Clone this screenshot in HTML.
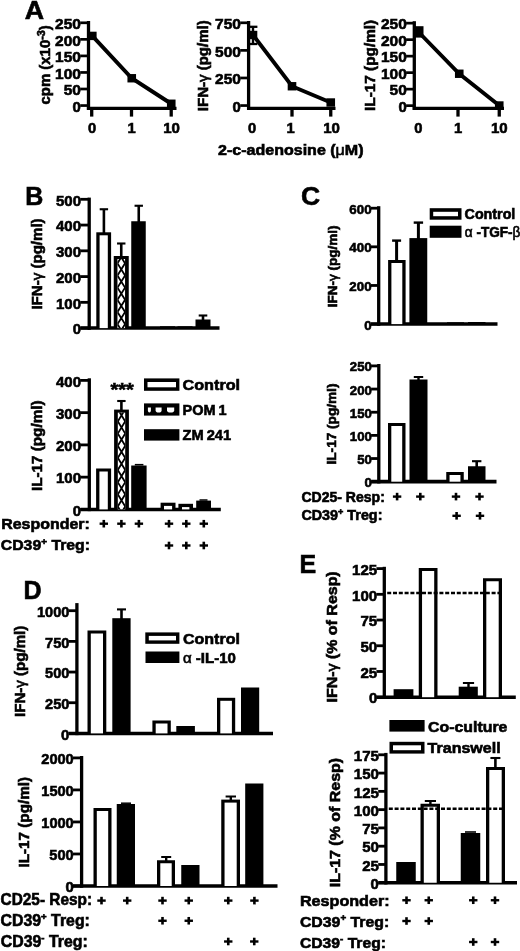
<!DOCTYPE html>
<html><head><meta charset="utf-8"><title>Figure</title>
<style>
html,body{margin:0;padding:0;background:#fff;}
svg{display:block;}
svg text{font-family:"Liberation Sans",sans-serif;fill:#000;stroke:#000;stroke-width:0.6px;}
</style></head><body>
<svg width="520" height="951" viewBox="0 0 520 951">
<rect x="0" y="0" width="520" height="951" fill="#fff"/>
<text transform="translate(24.8,19.2) scale(1.03,1)" x="0" y="0" font-size="26" font-weight="bold">A</text>
<line x1="88.5" y1="21" x2="88.5" y2="109.9" stroke="#000" stroke-width="3.3" />
<line x1="86.9" y1="108.4" x2="176.5" y2="108.4" stroke="#000" stroke-width="3.4" />
<line x1="80.2" y1="22.8" x2="88.5" y2="22.8" stroke="#000" stroke-width="2.7" />
<line x1="80.2" y1="39.35" x2="88.5" y2="39.35" stroke="#000" stroke-width="2.7" />
<line x1="80.2" y1="55.9" x2="88.5" y2="55.9" stroke="#000" stroke-width="2.7" />
<line x1="80.2" y1="72.45" x2="88.5" y2="72.45" stroke="#000" stroke-width="2.7" />
<line x1="80.2" y1="89" x2="88.5" y2="89" stroke="#000" stroke-width="2.7" />
<line x1="80.2" y1="105.55" x2="88.5" y2="105.55" stroke="#000" stroke-width="2.7" />
<text transform="translate(80.9,29.04) scale(1.02,1)" x="-25.35" y="0" font-size="15.2" font-weight="bold">250</text>
<text transform="translate(80.9,45.59) scale(1.02,1)" x="-25.35" y="0" font-size="15.2" font-weight="bold">200</text>
<text transform="translate(80.9,62.14) scale(1.02,1)" x="-25.35" y="0" font-size="15.2" font-weight="bold">150</text>
<text transform="translate(80.9,78.69) scale(1.02,1)" x="-25.35" y="0" font-size="15.2" font-weight="bold">100</text>
<text transform="translate(80.9,95.24) scale(1.02,1)" x="-16.9" y="0" font-size="15.2" font-weight="bold">50</text>
<text transform="translate(80.9,111.79) scale(0.98,1)" x="-8.46" y="0" font-size="15.2" font-weight="bold">0</text>
<line x1="91.7" y1="108.4" x2="91.7" y2="116.6" stroke="#000" stroke-width="3.3" />
<line x1="131.5" y1="108.4" x2="131.5" y2="116.6" stroke="#000" stroke-width="3.3" />
<line x1="171.2" y1="108.4" x2="171.2" y2="116.6" stroke="#000" stroke-width="3.3" />
<polyline points="92.3,35.9 131.75,78.25 171.25,103.75" fill="none" stroke="#000" stroke-width="3.9"/>
<rect x="88" y="31.7" width="8.6" height="8.4" fill="#000"/>
<rect x="127.45" y="74.05" width="8.6" height="8.4" fill="#000"/>
<rect x="166.95" y="99.55" width="8.6" height="8.4" fill="#000"/>
<text transform="translate(92,133.1) scale(0.97,1)" x="-4.23" y="0" font-size="15.2" font-weight="bold">0</text>
<text transform="translate(131.5,133.1) scale(0.97,1)" x="-4.23" y="0" font-size="15.2" font-weight="bold">1</text>
<text transform="translate(171.5,133.1) scale(0.99,1)" x="-8.45" y="0" font-size="15.2" font-weight="bold">10</text>
<text transform="translate(50,104.5) rotate(-90) scale(1.03,1)" x="0" y="0" font-size="14.5" font-weight="bold">cpm (x10<tspan dy="-5" font-size="10.5">-3</tspan><tspan dy="5">)</tspan></text>
<line x1="248.6" y1="21" x2="248.6" y2="109.9" stroke="#000" stroke-width="3.3" />
<line x1="247" y1="108.4" x2="335.5" y2="108.4" stroke="#000" stroke-width="3.4" />
<line x1="240.2" y1="22.8" x2="248.6" y2="22.8" stroke="#000" stroke-width="2.7" />
<line x1="240.2" y1="50.38" x2="248.6" y2="50.38" stroke="#000" stroke-width="2.7" />
<line x1="240.2" y1="77.97" x2="248.6" y2="77.97" stroke="#000" stroke-width="2.7" />
<line x1="240.2" y1="105.55" x2="248.6" y2="105.55" stroke="#000" stroke-width="2.7" />
<text transform="translate(240.9,29.04) scale(1.02,1)" x="-25.35" y="0" font-size="15.2" font-weight="bold">750</text>
<text transform="translate(240.9,56.62) scale(1.02,1)" x="-25.35" y="0" font-size="15.2" font-weight="bold">500</text>
<text transform="translate(240.9,84.21) scale(1.02,1)" x="-25.35" y="0" font-size="15.2" font-weight="bold">250</text>
<text transform="translate(240.9,111.79) scale(0.98,1)" x="-8.46" y="0" font-size="15.2" font-weight="bold">0</text>
<line x1="292" y1="108.4" x2="292" y2="116.6" stroke="#000" stroke-width="3.3" />
<line x1="330.75" y1="108.4" x2="330.75" y2="116.6" stroke="#000" stroke-width="3.3" />
<line x1="253" y1="26.8" x2="253" y2="44" stroke="#000" stroke-width="2.4" />
<line x1="248.6" y1="26.8" x2="257.4" y2="26.8" stroke="#000" stroke-width="2.3" />
<line x1="248.6" y1="44" x2="257.4" y2="44" stroke="#000" stroke-width="2.3" />
<polyline points="253,35 292,86.25 330.75,102.5" fill="none" stroke="#000" stroke-width="3.9"/>
<rect x="248.7" y="30.8" width="8.6" height="8.4" fill="#000"/>
<rect x="287.7" y="82.05" width="8.6" height="8.4" fill="#000"/>
<rect x="326.45" y="98.3" width="8.6" height="8.4" fill="#000"/>
<text transform="translate(252,133.1) scale(0.97,1)" x="-4.23" y="0" font-size="15.2" font-weight="bold">0</text>
<text transform="translate(290.7,133.1) scale(0.97,1)" x="-4.23" y="0" font-size="15.2" font-weight="bold">1</text>
<text transform="translate(331.5,133.1) scale(0.99,1)" x="-8.45" y="0" font-size="15.2" font-weight="bold">10</text>
<text transform="translate(207.5,111.2) rotate(-90) scale(1,1)" x="0" y="0" font-size="15" font-weight="bold">IFN-<tspan font-weight="normal">γ</tspan> (pg/ml)</text>
<line x1="414.3" y1="21.2" x2="414.3" y2="109.9" stroke="#000" stroke-width="3.3" />
<line x1="412.7" y1="108.4" x2="504" y2="108.4" stroke="#000" stroke-width="3.4" />
<line x1="406.1" y1="23.15" x2="414.3" y2="23.15" stroke="#000" stroke-width="2.7" />
<line x1="406.1" y1="39.65" x2="414.3" y2="39.65" stroke="#000" stroke-width="2.7" />
<line x1="406.1" y1="56.15" x2="414.3" y2="56.15" stroke="#000" stroke-width="2.7" />
<line x1="406.1" y1="72.65" x2="414.3" y2="72.65" stroke="#000" stroke-width="2.7" />
<line x1="406.1" y1="89.15" x2="414.3" y2="89.15" stroke="#000" stroke-width="2.7" />
<line x1="406.1" y1="105.65" x2="414.3" y2="105.65" stroke="#000" stroke-width="2.7" />
<text transform="translate(406.8,29.39) scale(1.02,1)" x="-25.35" y="0" font-size="15.2" font-weight="bold">250</text>
<text transform="translate(406.8,45.89) scale(1.02,1)" x="-25.35" y="0" font-size="15.2" font-weight="bold">200</text>
<text transform="translate(406.8,62.39) scale(1.02,1)" x="-25.35" y="0" font-size="15.2" font-weight="bold">150</text>
<text transform="translate(406.8,78.89) scale(1.02,1)" x="-25.35" y="0" font-size="15.2" font-weight="bold">100</text>
<text transform="translate(406.8,95.39) scale(1.02,1)" x="-16.9" y="0" font-size="15.2" font-weight="bold">50</text>
<text transform="translate(406.8,111.89) scale(0.98,1)" x="-8.46" y="0" font-size="15.2" font-weight="bold">0</text>
<line x1="458" y1="108.4" x2="458" y2="116.6" stroke="#000" stroke-width="3.3" />
<line x1="499.25" y1="108.4" x2="499.25" y2="116.6" stroke="#000" stroke-width="3.3" />
<polyline points="418.5,32 459.25,73.75 499.25,105.5" fill="none" stroke="#000" stroke-width="3.9"/>
<rect x="413.9" y="26.2" width="9.6" height="11.4" fill="#000"/>
<rect x="454.95" y="69.55" width="8.6" height="8.4" fill="#000"/>
<rect x="494.95" y="101.3" width="8.6" height="8.4" fill="#000"/>
<text transform="translate(418.25,133.2) scale(0.97,1)" x="-4.23" y="0" font-size="15.2" font-weight="bold">0</text>
<text transform="translate(458,133.2) scale(0.97,1)" x="-4.23" y="0" font-size="15.2" font-weight="bold">1</text>
<text transform="translate(499.25,133.2) scale(0.99,1)" x="-8.45" y="0" font-size="15.2" font-weight="bold">10</text>
<text transform="translate(375.3,111) rotate(-90) scale(1.01,1)" x="0" y="0" font-size="15.2" font-weight="bold">IL-17 (pg/ml)</text>
<text transform="translate(218,155.4) scale(1.07,1)" x="0" y="0" font-size="15" font-weight="bold">2-c-adenosine (<tspan font-weight="normal">μ</tspan>M)</text>
<text transform="translate(25.2,205) scale(1,1)" x="0" y="0" font-size="25" font-weight="bold">B</text>
<line x1="89.2" y1="197.6" x2="89.2" y2="329.85" stroke="#000" stroke-width="3.3" />
<line x1="80.5" y1="328.1" x2="219.5" y2="328.1" stroke="#000" stroke-width="3.5" />
<line x1="80.3" y1="199.3" x2="89.2" y2="199.3" stroke="#000" stroke-width="2.8" />
<line x1="80.3" y1="225.06" x2="89.2" y2="225.06" stroke="#000" stroke-width="2.8" />
<line x1="80.3" y1="250.82" x2="89.2" y2="250.82" stroke="#000" stroke-width="2.8" />
<line x1="80.3" y1="276.58" x2="89.2" y2="276.58" stroke="#000" stroke-width="2.8" />
<line x1="80.3" y1="302.34" x2="89.2" y2="302.34" stroke="#000" stroke-width="2.8" />
<line x1="80.3" y1="328.1" x2="89.2" y2="328.1" stroke="#000" stroke-width="2.8" />
<text transform="translate(81.1,205.54) scale(0.99,1)" x="-25.35" y="0" font-size="15.2" font-weight="bold">500</text>
<text transform="translate(81.1,231.3) scale(0.99,1)" x="-25.35" y="0" font-size="15.2" font-weight="bold">400</text>
<text transform="translate(81.1,257.06) scale(0.99,1)" x="-25.35" y="0" font-size="15.2" font-weight="bold">300</text>
<text transform="translate(81.1,282.82) scale(0.99,1)" x="-25.35" y="0" font-size="15.2" font-weight="bold">200</text>
<text transform="translate(81.1,308.58) scale(0.99,1)" x="-25.35" y="0" font-size="15.2" font-weight="bold">100</text>
<text transform="translate(81.1,334.34) scale(0.98,1)" x="-8.46" y="0" font-size="15.2" font-weight="bold">0</text>
<rect x="96.3" y="232.3" width="14.8" height="95.8" fill="#000"/>
<rect x="99.6" y="235.3" width="8.2" height="92.8" fill="#fff"/>
<line x1="103.9" y1="209.25" x2="103.9" y2="233" stroke="#000" stroke-width="2.6" />
<line x1="99.7" y1="209.25" x2="108.1" y2="209.25" stroke="#000" stroke-width="2.1" />
<rect x="113.75" y="256" width="15" height="72.1" fill="#000"/>
<rect x="117.45" y="259" width="7.6" height="69.1" fill="#fff"/>
<svg x="117.45" y="259" width="7.6" height="69.1" overflow="hidden">
<path d="M-3.8 -1.76 L11.4 -26.08 M11.4 -1.76 L-3.8 -26.08 M-3.8 10.4 L11.4 -13.92 M11.4 10.4 L-3.8 -13.92 M-3.8 22.56 L11.4 -1.76 M11.4 22.56 L-3.8 -1.76 M-3.8 34.72 L11.4 10.4 M11.4 34.72 L-3.8 10.4 M-3.8 46.88 L11.4 22.56 M11.4 46.88 L-3.8 22.56 M-3.8 59.04 L11.4 34.72 M11.4 59.04 L-3.8 34.72 M-3.8 71.2 L11.4 46.88 M11.4 71.2 L-3.8 46.88 M-3.8 83.36 L11.4 59.04 M11.4 83.36 L-3.8 59.04 M-3.8 95.52 L11.4 71.2 M11.4 95.52 L-3.8 71.2 " stroke="#000" stroke-width="1.8" fill="none"/>
</svg>
<line x1="121.25" y1="243.5" x2="121.25" y2="257" stroke="#000" stroke-width="2.6" />
<line x1="117.05" y1="243.5" x2="125.45" y2="243.5" stroke="#000" stroke-width="2.1" />
<rect x="131.25" y="221.25" width="14.5" height="106.85" fill="#000"/>
<line x1="138.75" y1="205.75" x2="138.75" y2="222" stroke="#000" stroke-width="2.6" />
<line x1="134.55" y1="205.75" x2="142.95" y2="205.75" stroke="#000" stroke-width="2.1" />
<rect x="160" y="326.3" width="15" height="1.8" fill="#000"/>
<rect x="177.5" y="326.3" width="15" height="1.8" fill="#000"/>
<rect x="195.5" y="319.5" width="15" height="8.6" fill="#000"/>
<line x1="203" y1="315.5" x2="203" y2="320" stroke="#000" stroke-width="2.6" />
<line x1="198.7" y1="315.5" x2="207.3" y2="315.5" stroke="#000" stroke-width="2.1" />
<text transform="translate(41.6,309.6) rotate(-90) scale(1.04,1)" x="0" y="0" font-size="14.5" font-weight="bold">IFN-<tspan font-weight="normal">γ</tspan> (pg/ml)</text>
<line x1="89.3" y1="378.3" x2="89.3" y2="511.15" stroke="#000" stroke-width="3.3" />
<line x1="80.5" y1="509.4" x2="220.8" y2="509.4" stroke="#000" stroke-width="3.5" />
<line x1="80.2" y1="380.4" x2="89.3" y2="380.4" stroke="#000" stroke-width="2.8" />
<line x1="80.2" y1="412.65" x2="89.3" y2="412.65" stroke="#000" stroke-width="2.8" />
<line x1="80.2" y1="444.9" x2="89.3" y2="444.9" stroke="#000" stroke-width="2.8" />
<line x1="80.2" y1="477.15" x2="89.3" y2="477.15" stroke="#000" stroke-width="2.8" />
<line x1="80.2" y1="509.4" x2="89.3" y2="509.4" stroke="#000" stroke-width="2.8" />
<text transform="translate(81.1,386.64) scale(0.99,1)" x="-25.35" y="0" font-size="15.2" font-weight="bold">400</text>
<text transform="translate(81.1,418.89) scale(0.99,1)" x="-25.35" y="0" font-size="15.2" font-weight="bold">300</text>
<text transform="translate(81.1,451.14) scale(0.99,1)" x="-25.35" y="0" font-size="15.2" font-weight="bold">200</text>
<text transform="translate(81.1,483.39) scale(0.99,1)" x="-25.35" y="0" font-size="15.2" font-weight="bold">100</text>
<text transform="translate(81.1,515.64) scale(0.98,1)" x="-8.46" y="0" font-size="15.2" font-weight="bold">0</text>
<rect x="96.1" y="468.5" width="15" height="40.9" fill="#000"/>
<rect x="99.4" y="471.5" width="8.4" height="37.9" fill="#fff"/>
<rect x="114.1" y="409.6" width="14.8" height="99.8" fill="#000"/>
<rect x="117.8" y="412.6" width="7.4" height="96.8" fill="#fff"/>
<svg x="117.8" y="412.6" width="7.4" height="96.8" overflow="hidden">
<path d="M-3.7 -9.44 L11.1 -33.76 M11.1 -9.44 L-3.7 -33.76 M-3.7 2.72 L11.1 -21.6 M11.1 2.72 L-3.7 -21.6 M-3.7 14.88 L11.1 -9.44 M11.1 14.88 L-3.7 -9.44 M-3.7 27.04 L11.1 2.72 M11.1 27.04 L-3.7 2.72 M-3.7 39.2 L11.1 14.88 M11.1 39.2 L-3.7 14.88 M-3.7 51.36 L11.1 27.04 M11.1 51.36 L-3.7 27.04 M-3.7 63.52 L11.1 39.2 M11.1 63.52 L-3.7 39.2 M-3.7 75.68 L11.1 51.36 M11.1 75.68 L-3.7 51.36 M-3.7 87.84 L11.1 63.52 M11.1 87.84 L-3.7 63.52 M-3.7 100 L11.1 75.68 M11.1 100 L-3.7 75.68 M-3.7 112.16 L11.1 87.84 M11.1 112.16 L-3.7 87.84 " stroke="#000" stroke-width="1.8" fill="none"/>
</svg>
<line x1="121.4" y1="401" x2="121.4" y2="410.5" stroke="#000" stroke-width="2.6" />
<line x1="117.2" y1="401" x2="125.6" y2="401" stroke="#000" stroke-width="2.1" />
<rect x="131.2" y="465.5" width="15.4" height="43.9" fill="#000"/>
<line x1="134.8" y1="464.7" x2="143.4" y2="464.7" stroke="#000" stroke-width="1.6" />
<rect x="160.6" y="502.7" width="14.9" height="6.7" fill="#000"/>
<rect x="164" y="505.9" width="8.1" height="3.5" fill="#fff"/>
<rect x="178.4" y="503.8" width="14.6" height="5.6" fill="#000"/>
<rect x="182" y="507.1" width="7.4" height="2.3" fill="#fff"/>
<rect x="196.2" y="500.6" width="14.8" height="8.8" fill="#000"/>
<line x1="199.5" y1="500" x2="207.5" y2="500" stroke="#000" stroke-width="1.5" />
<text transform="translate(110.4,396) scale(1.05,1)" x="0" y="0" font-size="19" font-weight="bold">***</text>
<rect x="144" y="378.4" width="35.4" height="12.4" fill="#000"/>
<rect x="147.5" y="382" width="28.5" height="5.3" fill="#fff"/>
<rect x="144" y="403.4" width="35.4" height="12.2" fill="#000"/>
<path d="M147.9 407.6 H150.9 V410.2 Q150.9 412.6 149.4 412.6 Q147.9 412.6 147.9 410.2 Z" fill="#fff"/>
<path d="M155.6 407.6 H161.6 V410.2 Q161.6 412.6 158.6 412.6 Q155.6 412.6 155.6 410.2 Z" fill="#fff"/>
<path d="M167 407.6 H174.2 V410.2 Q174.2 412.6 170.6 412.6 Q167 412.6 167 410.2 Z" fill="#fff"/>
<rect x="144" y="429.2" width="35.4" height="11.4" fill="#000"/>
<text transform="translate(182.5,390) scale(1.08,1)" x="0" y="0" font-size="15" font-weight="bold">Control</text>
<text transform="translate(182.5,415.3) scale(0.95,1)" x="0" y="0" font-size="15.3" font-weight="bold">POM&#8201;1</text>
<text transform="translate(182.5,440.4) scale(0.96,1)" x="0" y="0" font-size="15.3" font-weight="bold">ZM&#8201;241</text>
<line x1="99.6" y1="523.7" x2="108" y2="523.7" stroke="#000" stroke-width="2.4" />
<line x1="103.8" y1="519.9" x2="103.8" y2="527.5" stroke="#000" stroke-width="2.6" />
<line x1="117.2" y1="523.7" x2="125.6" y2="523.7" stroke="#000" stroke-width="2.4" />
<line x1="121.4" y1="519.9" x2="121.4" y2="527.5" stroke="#000" stroke-width="2.6" />
<line x1="134.7" y1="523.7" x2="143.1" y2="523.7" stroke="#000" stroke-width="2.4" />
<line x1="138.9" y1="519.9" x2="138.9" y2="527.5" stroke="#000" stroke-width="2.6" />
<line x1="164.8" y1="523.7" x2="173.2" y2="523.7" stroke="#000" stroke-width="2.4" />
<line x1="169" y1="519.9" x2="169" y2="527.5" stroke="#000" stroke-width="2.6" />
<line x1="182.1" y1="523.7" x2="190.5" y2="523.7" stroke="#000" stroke-width="2.4" />
<line x1="186.3" y1="519.9" x2="186.3" y2="527.5" stroke="#000" stroke-width="2.6" />
<line x1="199.6" y1="523.7" x2="208" y2="523.7" stroke="#000" stroke-width="2.4" />
<line x1="203.8" y1="519.9" x2="203.8" y2="527.5" stroke="#000" stroke-width="2.6" />
<line x1="164.8" y1="545.5" x2="173.2" y2="545.5" stroke="#000" stroke-width="2.4" />
<line x1="169" y1="541.7" x2="169" y2="549.3" stroke="#000" stroke-width="2.6" />
<line x1="182.1" y1="545.5" x2="190.5" y2="545.5" stroke="#000" stroke-width="2.4" />
<line x1="186.3" y1="541.7" x2="186.3" y2="549.3" stroke="#000" stroke-width="2.6" />
<line x1="199.6" y1="545.5" x2="208" y2="545.5" stroke="#000" stroke-width="2.4" />
<line x1="203.8" y1="541.7" x2="203.8" y2="549.3" stroke="#000" stroke-width="2.6" />
<text transform="translate(1.2,529.3) scale(1.05,1)" x="0" y="0" font-size="15.2" font-weight="bold">Responder:</text>
<text transform="translate(0.8,550.4) scale(1.04,1)" x="0" y="0" font-size="15.2" font-weight="bold">CD39<tspan dy="-5.8" font-size="9.5">+</tspan><tspan dy="5.8"> Treg:</tspan></text>
<text transform="translate(41.6,491) rotate(-90) scale(1.05,1)" x="0" y="0" font-size="14.5" font-weight="bold">IL-17 (pg/ml)</text>
<text transform="translate(301,205.4) scale(1,1)" x="0" y="0" font-size="26.5" font-weight="bold">C</text>
<line x1="378.7" y1="206.2" x2="378.7" y2="325.85" stroke="#000" stroke-width="3.3" />
<line x1="371" y1="324.1" x2="497.5" y2="324.1" stroke="#000" stroke-width="3.5" />
<line x1="370.9" y1="208.2" x2="378.7" y2="208.2" stroke="#000" stroke-width="2.8" />
<line x1="370.9" y1="246.83" x2="378.7" y2="246.83" stroke="#000" stroke-width="2.8" />
<line x1="370.9" y1="285.47" x2="378.7" y2="285.47" stroke="#000" stroke-width="2.8" />
<line x1="370.9" y1="324.1" x2="378.7" y2="324.1" stroke="#000" stroke-width="2.8" />
<text transform="translate(371.6,213.77) scale(0.98,1)" x="-22.68" y="0" font-size="13.6" font-weight="bold">600</text>
<text transform="translate(371.6,252.4) scale(0.98,1)" x="-22.68" y="0" font-size="13.6" font-weight="bold">400</text>
<text transform="translate(371.6,291.04) scale(0.98,1)" x="-22.68" y="0" font-size="13.6" font-weight="bold">200</text>
<text transform="translate(371.6,329.67) scale(0.98,1)" x="-7.56" y="0" font-size="13.6" font-weight="bold">0</text>
<rect x="388.1" y="260" width="17.5" height="64.1" fill="#000"/>
<rect x="391.4" y="263" width="10.9" height="61.1" fill="#fff"/>
<line x1="396.6" y1="240.6" x2="396.6" y2="260.5" stroke="#000" stroke-width="3" />
<line x1="392.1" y1="240.6" x2="401.1" y2="240.6" stroke="#000" stroke-width="2.4" />
<rect x="409.4" y="238.1" width="17.85" height="86" fill="#000"/>
<line x1="418.4" y1="222.6" x2="418.4" y2="239" stroke="#000" stroke-width="3" />
<line x1="413.7" y1="222.6" x2="423.1" y2="222.6" stroke="#000" stroke-width="2.4" />
<rect x="447" y="322.3" width="17" height="1.8" fill="#000"/>
<rect x="468" y="322" width="17.5" height="2.1" fill="#000"/>
<rect x="429.7" y="208.2" width="31.8" height="11.5" fill="#000"/>
<rect x="433.2" y="211.8" width="24.8" height="4.4" fill="#fff"/>
<rect x="429.7" y="225.7" width="31.8" height="12.1" fill="#000"/>
<text transform="translate(464.6,219.2) scale(1.02,1)" x="0" y="0" font-size="14" font-weight="bold">Control</text>
<text transform="translate(464.8,237.1) scale(0.97,1)" x="0" y="0" font-size="14" font-weight="bold"><tspan font-weight="normal">α</tspan> -TGF-<tspan font-weight="normal">β</tspan></text>
<text transform="translate(337,307.3) rotate(-90) scale(1,1)" x="0" y="0" font-size="13.5" font-weight="bold">IFN-<tspan font-weight="normal">γ</tspan> (pg/ml)</text>
<line x1="378.8" y1="364" x2="378.8" y2="483.45" stroke="#000" stroke-width="3.3" />
<line x1="371.2" y1="481.7" x2="496.5" y2="481.7" stroke="#000" stroke-width="3.8" />
<line x1="371.1" y1="365.9" x2="378.8" y2="365.9" stroke="#000" stroke-width="2.8" />
<line x1="371.1" y1="389.06" x2="378.8" y2="389.06" stroke="#000" stroke-width="2.8" />
<line x1="371.1" y1="412.22" x2="378.8" y2="412.22" stroke="#000" stroke-width="2.8" />
<line x1="371.1" y1="435.38" x2="378.8" y2="435.38" stroke="#000" stroke-width="2.8" />
<line x1="371.1" y1="458.54" x2="378.8" y2="458.54" stroke="#000" stroke-width="2.8" />
<line x1="371.1" y1="481.7" x2="378.8" y2="481.7" stroke="#000" stroke-width="2.8" />
<text transform="translate(371.8,371.47) scale(0.97,1)" x="-22.68" y="0" font-size="13.6" font-weight="bold">250</text>
<text transform="translate(371.8,394.63) scale(0.97,1)" x="-22.68" y="0" font-size="13.6" font-weight="bold">200</text>
<text transform="translate(371.8,417.79) scale(0.97,1)" x="-22.68" y="0" font-size="13.6" font-weight="bold">150</text>
<text transform="translate(371.8,440.95) scale(0.97,1)" x="-22.68" y="0" font-size="13.6" font-weight="bold">100</text>
<text transform="translate(371.8,464.11) scale(0.97,1)" x="-15.12" y="0" font-size="13.6" font-weight="bold">50</text>
<text transform="translate(371.8,487.27) scale(0.98,1)" x="-7.56" y="0" font-size="13.6" font-weight="bold">0</text>
<rect x="388" y="423" width="17.5" height="58.7" fill="#000"/>
<rect x="391.3" y="426" width="10.9" height="55.7" fill="#fff"/>
<rect x="409.5" y="379.5" width="18" height="102.2" fill="#000"/>
<line x1="418.5" y1="377" x2="418.5" y2="380" stroke="#000" stroke-width="2.4" />
<line x1="413.8" y1="377" x2="423.2" y2="377" stroke="#000" stroke-width="2" />
<rect x="446.25" y="472" width="17.5" height="9.7" fill="#000"/>
<rect x="449.55" y="475" width="10.9" height="6.7" fill="#fff"/>
<rect x="468" y="466.25" width="17.5" height="15.45" fill="#000"/>
<line x1="476.7" y1="461.2" x2="476.7" y2="467" stroke="#000" stroke-width="2.6" />
<line x1="472" y1="461.2" x2="481.4" y2="461.2" stroke="#000" stroke-width="2.1" />
<line x1="392.9" y1="496.6" x2="401.3" y2="496.6" stroke="#000" stroke-width="2.4" />
<line x1="397.1" y1="492.8" x2="397.1" y2="500.4" stroke="#000" stroke-width="2.6" />
<line x1="416.1" y1="496.6" x2="424.5" y2="496.6" stroke="#000" stroke-width="2.4" />
<line x1="420.3" y1="492.8" x2="420.3" y2="500.4" stroke="#000" stroke-width="2.6" />
<line x1="451.8" y1="496.6" x2="460.2" y2="496.6" stroke="#000" stroke-width="2.4" />
<line x1="456" y1="492.8" x2="456" y2="500.4" stroke="#000" stroke-width="2.6" />
<line x1="475.3" y1="496.6" x2="483.7" y2="496.6" stroke="#000" stroke-width="2.4" />
<line x1="479.5" y1="492.8" x2="479.5" y2="500.4" stroke="#000" stroke-width="2.6" />
<line x1="452.4" y1="515.8" x2="460.8" y2="515.8" stroke="#000" stroke-width="2.4" />
<line x1="456.6" y1="512" x2="456.6" y2="519.6" stroke="#000" stroke-width="2.6" />
<line x1="475.8" y1="515.8" x2="484.2" y2="515.8" stroke="#000" stroke-width="2.4" />
<line x1="480" y1="512" x2="480" y2="519.6" stroke="#000" stroke-width="2.6" />
<text transform="translate(301.4,501.5) scale(0.99,1)" x="0" y="0" font-size="14.2" font-weight="bold">CD25- Resp:</text>
<text transform="translate(301.4,520.1) scale(1.01,1)" x="0" y="0" font-size="14.2" font-weight="bold">CD39<tspan dy="-5.6" font-size="9">+</tspan><tspan dy="5.6"> Treg:</tspan></text>
<text transform="translate(336.2,464.5) rotate(-90) scale(1.01,1)" x="0" y="0" font-size="13.5" font-weight="bold">IL-17 (pg/ml)</text>
<text transform="translate(299.4,572.5) scale(1,1)" x="0" y="0" font-size="25" font-weight="bold">E</text>
<line x1="384.3" y1="566.8" x2="384.3" y2="698.95" stroke="#000" stroke-width="3.3" />
<line x1="376.6" y1="697.2" x2="515.8" y2="697.2" stroke="#000" stroke-width="3.5" />
<line x1="376.4" y1="568.6" x2="384.3" y2="568.6" stroke="#000" stroke-width="2.8" />
<line x1="376.4" y1="594.32" x2="384.3" y2="594.32" stroke="#000" stroke-width="2.8" />
<line x1="376.4" y1="620.04" x2="384.3" y2="620.04" stroke="#000" stroke-width="2.8" />
<line x1="376.4" y1="645.76" x2="384.3" y2="645.76" stroke="#000" stroke-width="2.8" />
<line x1="376.4" y1="671.48" x2="384.3" y2="671.48" stroke="#000" stroke-width="2.8" />
<line x1="376.4" y1="697.2" x2="384.3" y2="697.2" stroke="#000" stroke-width="2.8" />
<text transform="translate(377.2,574.84) scale(0.99,1)" x="-25.35" y="0" font-size="15.2" font-weight="bold">125</text>
<text transform="translate(377.2,600.56) scale(0.99,1)" x="-25.35" y="0" font-size="15.2" font-weight="bold">100</text>
<text transform="translate(377.2,626.28) scale(0.99,1)" x="-16.9" y="0" font-size="15.2" font-weight="bold">75</text>
<text transform="translate(377.2,652) scale(0.99,1)" x="-16.9" y="0" font-size="15.2" font-weight="bold">50</text>
<text transform="translate(377.2,677.72) scale(0.99,1)" x="-16.9" y="0" font-size="15.2" font-weight="bold">25</text>
<text transform="translate(377.2,703.44) scale(0.98,1)" x="-8.46" y="0" font-size="15.2" font-weight="bold">0</text>
<rect x="393.6" y="689.2" width="19.8" height="8" fill="#000"/>
<rect x="418.75" y="568" width="18.75" height="129.2" fill="#000"/>
<rect x="422.05" y="571" width="12.15" height="126.2" fill="#fff"/>
<rect x="458.7" y="686.7" width="19.1" height="10.5" fill="#000"/>
<line x1="468.5" y1="683" x2="468.5" y2="687" stroke="#000" stroke-width="2.4" />
<line x1="462.9" y1="683" x2="474.1" y2="683" stroke="#000" stroke-width="2" />
<rect x="483" y="578.25" width="19" height="118.95" fill="#000"/>
<rect x="486.3" y="581.25" width="12.4" height="115.95" fill="#fff"/>
<line x1="387.2" y1="593" x2="499" y2="593" stroke="#000" stroke-width="2.6" stroke-dasharray="4 1.8"/>
<text transform="translate(337.3,702.5) rotate(-90) scale(1.05,1)" x="0" y="0" font-size="15.2" font-weight="bold">IFN-<tspan font-weight="normal">γ</tspan> (% of Resp)</text>
<line x1="385.9" y1="752.9" x2="385.9" y2="884.5" stroke="#000" stroke-width="3.3" />
<line x1="378.4" y1="882.75" x2="517" y2="882.75" stroke="#000" stroke-width="3.5" />
<line x1="378.2" y1="754.8" x2="385.9" y2="754.8" stroke="#000" stroke-width="2.8" />
<line x1="378.2" y1="773.08" x2="385.9" y2="773.08" stroke="#000" stroke-width="2.8" />
<line x1="378.2" y1="791.36" x2="385.9" y2="791.36" stroke="#000" stroke-width="2.8" />
<line x1="378.2" y1="809.64" x2="385.9" y2="809.64" stroke="#000" stroke-width="2.8" />
<line x1="378.2" y1="827.91" x2="385.9" y2="827.91" stroke="#000" stroke-width="2.8" />
<line x1="378.2" y1="846.19" x2="385.9" y2="846.19" stroke="#000" stroke-width="2.8" />
<line x1="378.2" y1="864.47" x2="385.9" y2="864.47" stroke="#000" stroke-width="2.8" />
<line x1="378.2" y1="882.75" x2="385.9" y2="882.75" stroke="#000" stroke-width="2.8" />
<text transform="translate(378.9,761.04) scale(0.99,1)" x="-25.35" y="0" font-size="15.2" font-weight="bold">175</text>
<text transform="translate(378.9,779.32) scale(0.99,1)" x="-25.35" y="0" font-size="15.2" font-weight="bold">150</text>
<text transform="translate(378.9,797.6) scale(0.99,1)" x="-25.35" y="0" font-size="15.2" font-weight="bold">125</text>
<text transform="translate(378.9,815.88) scale(0.99,1)" x="-25.35" y="0" font-size="15.2" font-weight="bold">100</text>
<text transform="translate(378.9,834.16) scale(0.99,1)" x="-16.9" y="0" font-size="15.2" font-weight="bold">75</text>
<text transform="translate(378.9,852.43) scale(0.99,1)" x="-16.9" y="0" font-size="15.2" font-weight="bold">50</text>
<text transform="translate(378.9,870.71) scale(0.99,1)" x="-16.9" y="0" font-size="15.2" font-weight="bold">25</text>
<text transform="translate(378.9,888.99) scale(0.98,1)" x="-8.46" y="0" font-size="15.2" font-weight="bold">0</text>
<rect x="396.25" y="862" width="19.5" height="20.75" fill="#000"/>
<rect x="420.5" y="803.75" width="19.5" height="79" fill="#000"/>
<rect x="423.8" y="806.75" width="12.9" height="76" fill="#fff"/>
<line x1="430.4" y1="801" x2="430.4" y2="804.5" stroke="#000" stroke-width="2.4" />
<line x1="424.8" y1="801" x2="436" y2="801" stroke="#000" stroke-width="2" />
<rect x="460.75" y="833" width="19.5" height="49.75" fill="#000"/>
<line x1="465" y1="832" x2="476" y2="832" stroke="#000" stroke-width="1.6" />
<rect x="486" y="767" width="19" height="115.75" fill="#000"/>
<rect x="489.3" y="770" width="12.4" height="112.75" fill="#fff"/>
<line x1="495.4" y1="758" x2="495.4" y2="768" stroke="#000" stroke-width="2.6" />
<line x1="490.4" y1="758" x2="500.4" y2="758" stroke="#000" stroke-width="2.1" />
<line x1="388.8" y1="808.8" x2="502.5" y2="808.8" stroke="#000" stroke-width="2.6" stroke-dasharray="4 1.8"/>
<rect x="389.4" y="720" width="35.2" height="11.6" fill="#000"/>
<rect x="389.5" y="741.8" width="35" height="11.8" fill="#000"/>
<rect x="393" y="745.3" width="28" height="4.9" fill="#fff"/>
<text transform="translate(428,731.5) scale(1.06,1)" x="0" y="0" font-size="15" font-weight="bold">Co-culture</text>
<text transform="translate(427.6,753) scale(1.07,1)" x="0" y="0" font-size="15" font-weight="bold">Transwell</text>
<line x1="402.3" y1="900.25" x2="410.7" y2="900.25" stroke="#000" stroke-width="2.4" />
<line x1="406.5" y1="896.45" x2="406.5" y2="904.05" stroke="#000" stroke-width="2.6" />
<line x1="424.55" y1="900.25" x2="432.95" y2="900.25" stroke="#000" stroke-width="2.4" />
<line x1="428.75" y1="896.45" x2="428.75" y2="904.05" stroke="#000" stroke-width="2.6" />
<line x1="469.05" y1="900.25" x2="477.45" y2="900.25" stroke="#000" stroke-width="2.4" />
<line x1="473.25" y1="896.45" x2="473.25" y2="904.05" stroke="#000" stroke-width="2.6" />
<line x1="490.8" y1="900.25" x2="499.2" y2="900.25" stroke="#000" stroke-width="2.4" />
<line x1="495" y1="896.45" x2="495" y2="904.05" stroke="#000" stroke-width="2.6" />
<line x1="402.3" y1="921" x2="410.7" y2="921" stroke="#000" stroke-width="2.4" />
<line x1="406.5" y1="917.2" x2="406.5" y2="924.8" stroke="#000" stroke-width="2.6" />
<line x1="424.55" y1="921" x2="432.95" y2="921" stroke="#000" stroke-width="2.4" />
<line x1="428.75" y1="917.2" x2="428.75" y2="924.8" stroke="#000" stroke-width="2.6" />
<line x1="469.05" y1="942" x2="477.45" y2="942" stroke="#000" stroke-width="2.4" />
<line x1="473.25" y1="938.2" x2="473.25" y2="945.8" stroke="#000" stroke-width="2.6" />
<line x1="490.8" y1="942" x2="499.2" y2="942" stroke="#000" stroke-width="2.4" />
<line x1="495" y1="938.2" x2="495" y2="945.8" stroke="#000" stroke-width="2.6" />
<text transform="translate(299.9,906.3) scale(1.05,1)" x="0" y="0" font-size="15.4" font-weight="bold">Responder:</text>
<text transform="translate(299.9,927) scale(1.03,1)" x="0" y="0" font-size="15.4" font-weight="bold">CD39<tspan dy="-5.8" font-size="9.5">+</tspan><tspan dy="5.8"> Treg:</tspan></text>
<text transform="translate(299.9,947.6) scale(1.02,1)" x="0" y="0" font-size="15.4" font-weight="bold">CD39<tspan dy="-5.8" font-size="9.5">-</tspan><tspan dy="5.8"> Treg:</tspan></text>
<text transform="translate(339.8,887.3) rotate(-90) scale(1.05,1)" x="0" y="0" font-size="15.2" font-weight="bold">IL-17 (% of Resp)</text>
<text transform="translate(23.6,599.3) scale(1,1)" x="0" y="0" font-size="25" font-weight="bold">D</text>
<line x1="76.9" y1="603.1" x2="76.9" y2="735.15" stroke="#000" stroke-width="3.3" />
<line x1="68.8" y1="733.4" x2="273" y2="733.4" stroke="#000" stroke-width="3.5" />
<line x1="68.6" y1="610.7" x2="76.9" y2="610.7" stroke="#000" stroke-width="2.8" />
<line x1="68.6" y1="641.38" x2="76.9" y2="641.38" stroke="#000" stroke-width="2.8" />
<line x1="68.6" y1="672.05" x2="76.9" y2="672.05" stroke="#000" stroke-width="2.8" />
<line x1="68.6" y1="702.73" x2="76.9" y2="702.73" stroke="#000" stroke-width="2.8" />
<line x1="68.6" y1="733.4" x2="76.9" y2="733.4" stroke="#000" stroke-width="2.8" />
<text transform="translate(69.4,616.94) scale(0.96,1)" x="-33.79" y="0" font-size="15.2" font-weight="bold">1000</text>
<text transform="translate(69.4,647.62) scale(0.96,1)" x="-25.35" y="0" font-size="15.2" font-weight="bold">750</text>
<text transform="translate(69.4,678.29) scale(0.96,1)" x="-25.35" y="0" font-size="15.2" font-weight="bold">500</text>
<text transform="translate(69.4,708.97) scale(0.96,1)" x="-25.35" y="0" font-size="15.2" font-weight="bold">250</text>
<text transform="translate(69.4,739.64) scale(0.98,1)" x="-8.46" y="0" font-size="15.2" font-weight="bold">0</text>
<rect x="87.5" y="630.5" width="18.8" height="102.9" fill="#000"/>
<rect x="90.8" y="633.5" width="12.2" height="99.9" fill="#fff"/>
<rect x="112.3" y="618.2" width="18.3" height="115.2" fill="#000"/>
<line x1="121.5" y1="609.4" x2="121.5" y2="619" stroke="#000" stroke-width="2.6" />
<line x1="117" y1="609.4" x2="126" y2="609.4" stroke="#000" stroke-width="2.1" />
<rect x="152.4" y="720.5" width="18.4" height="12.9" fill="#000"/>
<rect x="155.7" y="723.5" width="11.8" height="9.9" fill="#fff"/>
<rect x="176.3" y="726" width="18.6" height="7.4" fill="#000"/>
<rect x="217" y="697.8" width="18.2" height="35.6" fill="#000"/>
<rect x="220.3" y="700.8" width="11.6" height="32.6" fill="#fff"/>
<rect x="241" y="687.5" width="18.2" height="45.9" fill="#000"/>
<rect x="145.3" y="632.4" width="34.1" height="11.4" fill="#000"/>
<rect x="148.8" y="635.9" width="27.2" height="4.5" fill="#fff"/>
<rect x="145.5" y="651.5" width="33.9" height="11.5" fill="#000"/>
<text transform="translate(182.9,643.6) scale(1.07,1)" x="0" y="0" font-size="15" font-weight="bold">Control</text>
<text transform="translate(183,663.2) scale(1,1)" x="0" y="0" font-size="15" font-weight="bold"><tspan font-weight="normal">α</tspan> -IL-10</text>
<text transform="translate(25,717) rotate(-90) scale(1.04,1)" x="0" y="0" font-size="14.5" font-weight="bold">IFN-<tspan font-weight="normal">γ</tspan> (pg/ml)</text>
<line x1="81.6" y1="756" x2="81.6" y2="887.75" stroke="#000" stroke-width="3.3" />
<line x1="73" y1="886" x2="277.5" y2="886" stroke="#000" stroke-width="3.5" />
<line x1="72.9" y1="757.9" x2="81.6" y2="757.9" stroke="#000" stroke-width="2.8" />
<line x1="72.9" y1="789.92" x2="81.6" y2="789.92" stroke="#000" stroke-width="2.8" />
<line x1="72.9" y1="821.95" x2="81.6" y2="821.95" stroke="#000" stroke-width="2.8" />
<line x1="72.9" y1="853.98" x2="81.6" y2="853.98" stroke="#000" stroke-width="2.8" />
<line x1="72.9" y1="886" x2="81.6" y2="886" stroke="#000" stroke-width="2.8" />
<text transform="translate(73.7,764.14) scale(0.96,1)" x="-33.79" y="0" font-size="15.2" font-weight="bold">2000</text>
<text transform="translate(73.7,796.17) scale(0.96,1)" x="-33.79" y="0" font-size="15.2" font-weight="bold">1500</text>
<text transform="translate(73.7,828.19) scale(0.96,1)" x="-33.79" y="0" font-size="15.2" font-weight="bold">1000</text>
<text transform="translate(73.7,860.22) scale(0.96,1)" x="-25.35" y="0" font-size="15.2" font-weight="bold">500</text>
<text transform="translate(73.7,892.24) scale(0.98,1)" x="-8.46" y="0" font-size="15.2" font-weight="bold">0</text>
<rect x="93.5" y="808" width="18" height="78" fill="#000"/>
<rect x="96.8" y="811" width="11.4" height="75" fill="#fff"/>
<rect x="116.75" y="804" width="18.25" height="82" fill="#000"/>
<line x1="121" y1="803.2" x2="131" y2="803.2" stroke="#000" stroke-width="1.5" />
<rect x="157" y="860.25" width="18" height="25.75" fill="#000"/>
<rect x="160.3" y="863.25" width="11.4" height="22.75" fill="#fff"/>
<line x1="166.2" y1="857" x2="166.2" y2="861" stroke="#000" stroke-width="2.4" />
<line x1="161.2" y1="857" x2="171.2" y2="857" stroke="#000" stroke-width="2" />
<rect x="181.25" y="865" width="18.25" height="21" fill="#000"/>
<rect x="221.25" y="799.6" width="18.75" height="86.4" fill="#000"/>
<rect x="224.55" y="802.6" width="12.15" height="83.4" fill="#fff"/>
<line x1="230.8" y1="796.5" x2="230.8" y2="800.5" stroke="#000" stroke-width="2.4" />
<line x1="225.6" y1="796.5" x2="236" y2="796.5" stroke="#000" stroke-width="2" />
<rect x="245.2" y="783.5" width="18.2" height="102.5" fill="#000"/>
<line x1="97.3" y1="900.6" x2="105.7" y2="900.6" stroke="#000" stroke-width="2.4" />
<line x1="101.5" y1="896.8" x2="101.5" y2="904.4" stroke="#000" stroke-width="2.6" />
<line x1="123" y1="900.6" x2="131.4" y2="900.6" stroke="#000" stroke-width="2.4" />
<line x1="127.2" y1="896.8" x2="127.2" y2="904.4" stroke="#000" stroke-width="2.6" />
<line x1="158.3" y1="900.6" x2="166.7" y2="900.6" stroke="#000" stroke-width="2.4" />
<line x1="162.5" y1="896.8" x2="162.5" y2="904.4" stroke="#000" stroke-width="2.6" />
<line x1="184.55" y1="900.6" x2="192.95" y2="900.6" stroke="#000" stroke-width="2.4" />
<line x1="188.75" y1="896.8" x2="188.75" y2="904.4" stroke="#000" stroke-width="2.6" />
<line x1="224.05" y1="900.6" x2="232.45" y2="900.6" stroke="#000" stroke-width="2.4" />
<line x1="228.25" y1="896.8" x2="228.25" y2="904.4" stroke="#000" stroke-width="2.6" />
<line x1="250.2" y1="900.6" x2="258.6" y2="900.6" stroke="#000" stroke-width="2.4" />
<line x1="254.4" y1="896.8" x2="254.4" y2="904.4" stroke="#000" stroke-width="2.6" />
<line x1="158.3" y1="920.75" x2="166.7" y2="920.75" stroke="#000" stroke-width="2.4" />
<line x1="162.5" y1="916.95" x2="162.5" y2="924.55" stroke="#000" stroke-width="2.6" />
<line x1="184.55" y1="920.75" x2="192.95" y2="920.75" stroke="#000" stroke-width="2.4" />
<line x1="188.75" y1="916.95" x2="188.75" y2="924.55" stroke="#000" stroke-width="2.6" />
<line x1="224.05" y1="941.5" x2="232.45" y2="941.5" stroke="#000" stroke-width="2.4" />
<line x1="228.25" y1="937.7" x2="228.25" y2="945.3" stroke="#000" stroke-width="2.6" />
<line x1="250.05" y1="941.5" x2="258.45" y2="941.5" stroke="#000" stroke-width="2.4" />
<line x1="254.25" y1="937.7" x2="254.25" y2="945.3" stroke="#000" stroke-width="2.6" />
<text transform="translate(0.6,905.1) scale(0.98,1)" x="0" y="0" font-size="15.7" font-weight="bold">CD25- Resp:</text>
<text transform="translate(0.6,926.1) scale(1.01,1)" x="0" y="0" font-size="15.7" font-weight="bold">CD39<tspan dy="-5.8" font-size="9.5">+</tspan><tspan dy="5.8"> Treg:</tspan></text>
<text transform="translate(0.8,947) scale(1.01,1)" x="0" y="0" font-size="15.7" font-weight="bold">CD39<tspan dy="-5.8" font-size="9.5">-</tspan><tspan dy="5.8"> Treg:</tspan></text>
<text transform="translate(28.8,867.5) rotate(-90) scale(1.03,1)" x="0" y="0" font-size="14.8" font-weight="bold">IL-17 (pg/ml)</text>
</svg>
</body></html>
